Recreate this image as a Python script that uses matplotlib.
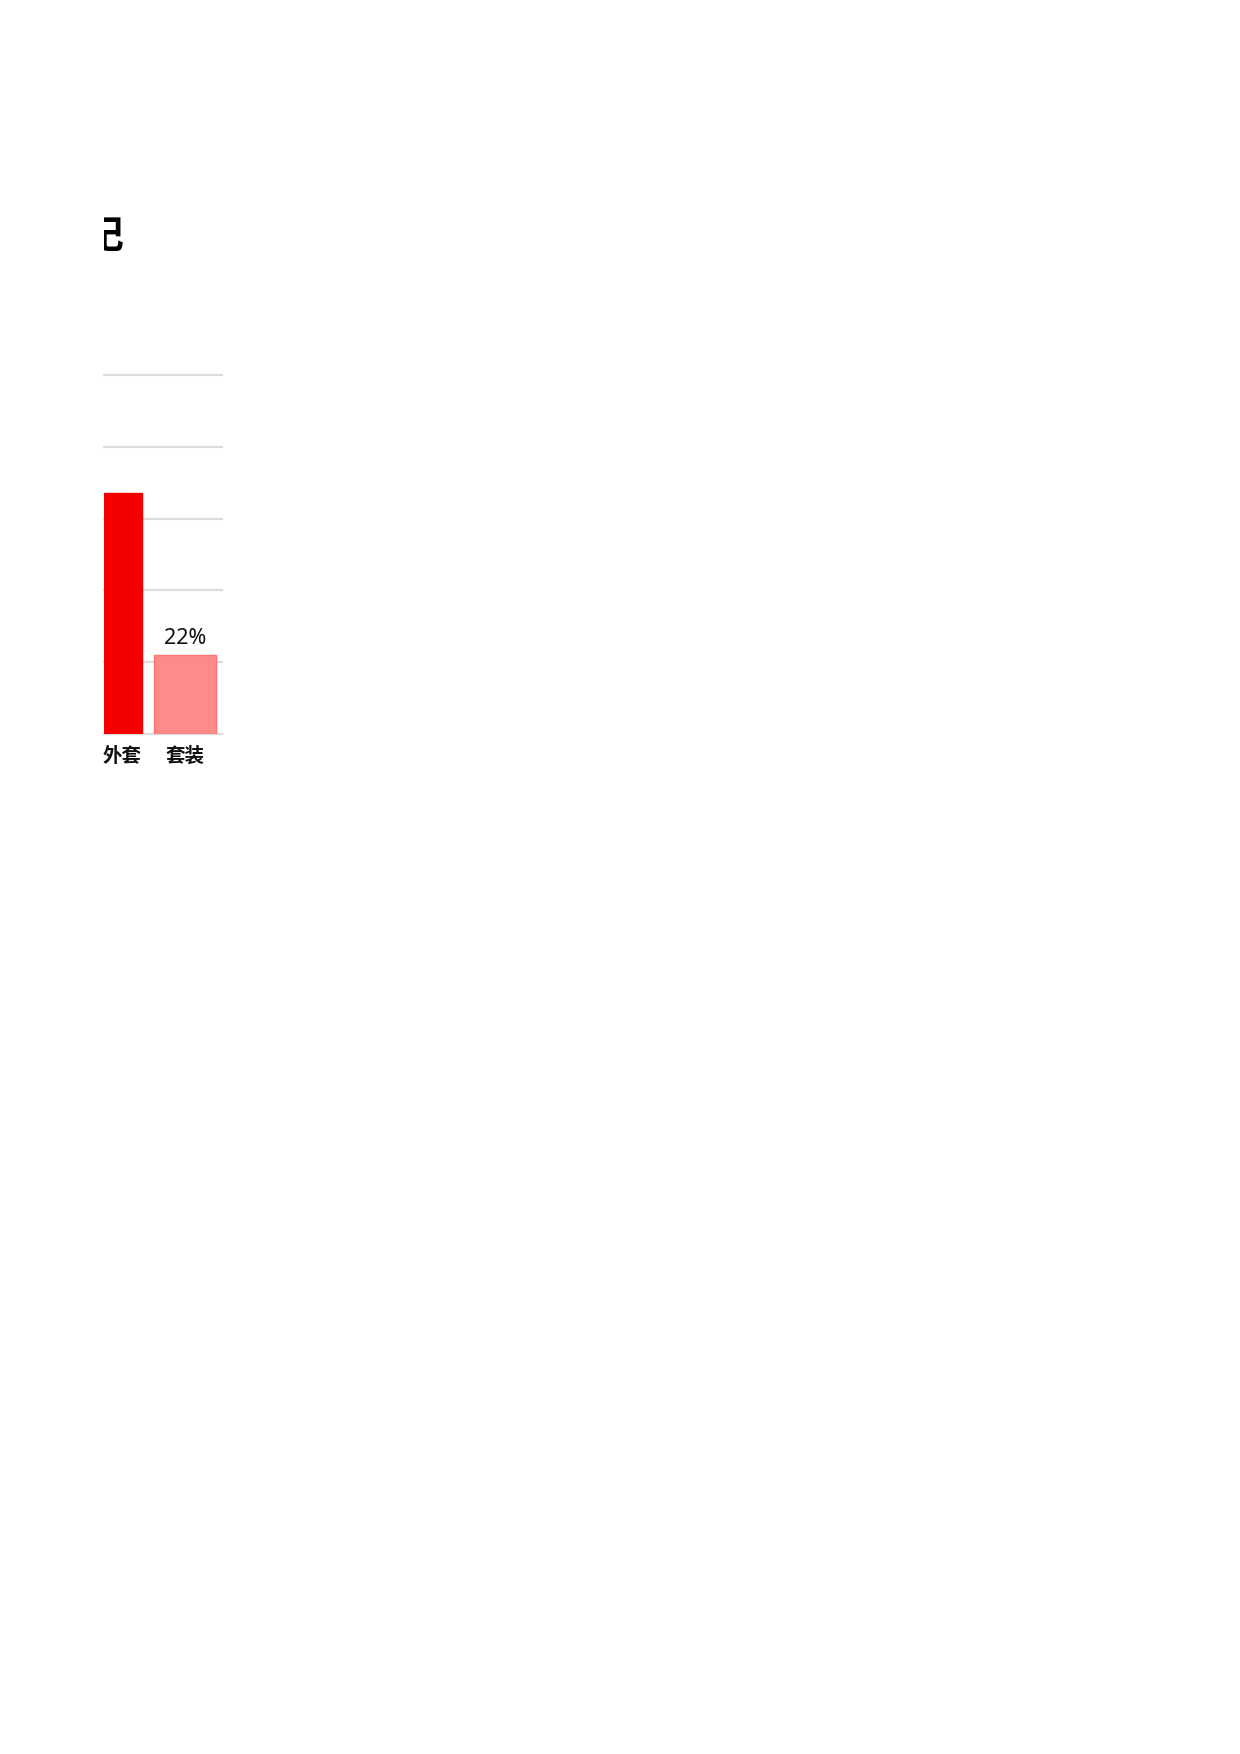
import matplotlib
matplotlib.use('Agg')
import matplotlib.pyplot as plt

plt.rcParams['font.family'] = ['Noto Sans CJK SC', 'DejaVu Sans']

categories = ['外套', '套装']
values = [67, 22]
value_labels = ['', '22%']
title = '记'
y_ticks = [0, 20, 40, 60, 80, 100]

W, H = 1240, 1754
fig = plt.figure(figsize=(W / 100, H / 100), dpi=100)
fig.patch.set_facecolor('white')

# chart area: the first bar is cut off by the left edge
ax = fig.add_axes([104 / W, 1 - 734 / H, 118 / W, 359 / H])
x = list(range(len(categories)))
ax.bar(x, values, width=0.84, color=['#F50000', '#FF8A8A'],
       edgecolor=['#F50000', '#FF7575'], linewidth=1)
bars = ax.containers[0]
ax.bar_label(bars, labels=value_labels, padding=4, fontsize=15.5,
             family=['Noto Sans', 'DejaVu Sans'], color='#111111')

ax.set_xlim(-0.095, 1.5)
ax.set_ylim(0, 100)
ax.set_yticks(y_ticks)
ax.set_yticklabels([])
ax.set_xticks([0.15, 1.0])
ax.set_xticklabels(categories, fontsize=14, fontweight='bold', color='#111111')
ax.tick_params(length=0, pad=9)
ax.yaxis.grid(True, color='#dcdcdc', linewidth=1.6)
ax.xaxis.grid(False)
for gl in ax.yaxis.get_gridlines():
    gl.set_clip_on(False)
ax.set_axisbelow(True)
for s in ax.spines.values():
    s.set_visible(False)

# title, clipped on the left like the card it sits in
tax = fig.add_axes([104 / W, 1 - 270 / H, 300 / W, 70 / H])
tax.axis('off')
tax.set_xlim(0, 300)
tax.set_ylim(0, 70)
tax.text(19.5, 33.5, title, ha='right', va='center', fontsize=28,
         fontweight='heavy', color='black', clip_on=True)

fig.savefig('out.png', dpi=100, facecolor='white')
